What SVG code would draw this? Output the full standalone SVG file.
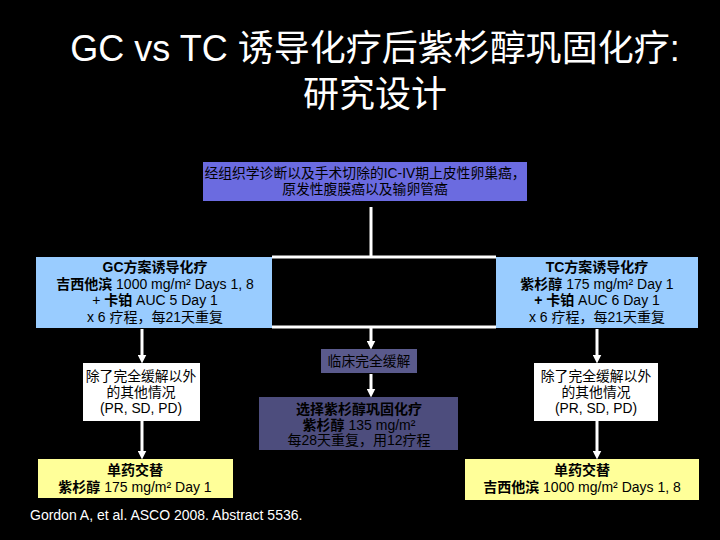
<svg xmlns="http://www.w3.org/2000/svg" width="720" height="540" viewBox="0 0 720 540">
<defs>
<style>
text{font-family:"Liberation Sans","Noto Sans CJK SC",sans-serif;}
.title{font-size:36px;fill:#ffffff;text-anchor:middle;}
.t{font-size:14px;fill:#000;text-anchor:middle;}
.ts{font-size:13.8px;fill:#000;text-anchor:middle;}
.b{font-weight:bold;}
.cite{font-size:14px;fill:#ffffff;}
.ln{stroke:#ffffff;stroke-width:3;fill:none;}
.ar{stroke:#ffffff;stroke-width:3;fill:none;marker-end:url(#ah);}
</style>
<marker id="ah" viewBox="0 0 10 10" refX="5" refY="5" markerWidth="3" markerHeight="3" orient="auto" markerUnits="strokeWidth">
<path d="M0,0 L10,5 L0,10 z" fill="#ffffff"/>
</marker>
</defs>
<rect x="0" y="0" width="720" height="540" fill="#000000"/>
<g id="title">
<text class="title" x="375" y="61">GC vs TC 诱导化疗后紫杉醇巩固化疗:</text>
<text class="title" x="375" y="107">研究设计</text>
</g>
<g id="connectors">
<line class="ln" x1="371" y1="207" x2="371" y2="257"/>
<line class="ln" x1="272" y1="257" x2="496" y2="257"/>
<line class="ln" x1="272" y1="327" x2="496" y2="327"/>
<line class="ar" x1="371" y1="328" x2="371" y2="345"/>
<line class="ar" x1="371" y1="374" x2="371" y2="393"/>
<line class="ar" x1="142" y1="329" x2="142" y2="359"/>
<line class="ar" x1="597" y1="329" x2="597" y2="359"/>
<line class="ar" x1="142" y1="421" x2="142" y2="455"/>
<line class="ar" x1="597" y1="421" x2="597" y2="455"/>
</g>
<g id="eligibility">
<rect x="203" y="162" width="324" height="39" fill="#6b6be0"/>
<text class="ts" x="365" y="178">经组织学诊断以及手术切除的IC-IV期上皮性卵巢癌，</text>
<text class="ts" x="365" y="194">原发性腹膜癌以及输卵管癌</text>
</g>
<g id="gc">
<rect x="36" y="257" width="236" height="71" fill="#99ccff"/>
<text class="t b" x="155" y="272">GC方案诱导化疗</text>
<text class="t" x="155" y="289"><tspan class="b">吉西他滨</tspan> 1000 mg/m² Days 1, 8</text>
<text class="t" x="155" y="305">+ <tspan class="b">卡铂</tspan> AUC 5 Day 1</text>
<text class="t" x="155" y="322">x 6 疗程，每21天重复</text>
</g>
<g id="tc">
<rect x="496" y="257" width="202" height="71" fill="#99ccff"/>
<text class="t b" x="597" y="272">TC方案诱导化疗</text>
<text class="t" x="597" y="289"><tspan class="b">紫杉醇</tspan> 175 mg/m² Day 1</text>
<text class="t" x="597" y="305"><tspan class="b">+ 卡铂</tspan> AUC 6 Day 1</text>
<text class="t" x="597" y="322">x 6 疗程，每21天重复</text>
</g>
<g id="cr">
<rect x="321" y="349" width="96" height="24" fill="#5a5a8c"/>
<text class="ts" x="369" y="366">临床完全缓解</text>
</g>
<g id="consolidation">
<rect x="259" y="397" width="199" height="53" fill="#4d4d7d"/>
<text class="t b" x="359" y="414">选择紫杉醇巩固化疗</text>
<text class="t" x="359" y="430"><tspan class="b">紫杉醇</tspan> 135 mg/m²</text>
<text class="t" x="359" y="445">每28天重复，用12疗程</text>
</g>
<g id="other-left">
<rect x="83" y="363" width="117" height="58" fill="#ffffff"/>
<text class="ts" x="141" y="381">除了完全缓解以外</text>
<text class="ts" x="141" y="397">的其他情况</text>
<text class="ts" x="141" y="413">(PR, SD, PD)</text>
</g>
<g id="other-right">
<rect x="534" y="363" width="124" height="58" fill="#ffffff"/>
<text class="ts" x="596" y="381">除了完全缓解以外</text>
<text class="ts" x="596" y="397">的其他情况</text>
<text class="ts" x="596" y="413">(PR, SD, PD)</text>
</g>
<g id="alt-left">
<rect x="38" y="459" width="195" height="39" fill="#ffff99"/>
<text class="t b" x="135" y="475">单药交替</text>
<text class="t" x="135" y="492"><tspan class="b">紫杉醇</tspan> 175 mg/m² Day 1</text>
</g>
<g id="alt-right">
<rect x="465" y="459" width="234" height="41" fill="#ffff99"/>
<text class="t b" x="582" y="475">单药交替</text>
<text class="t" x="582" y="492"><tspan class="b">吉西他滨</tspan> 1000 mg/m² Days 1, 8</text>
</g>
<g id="citation">
<text class="cite" x="30" y="520">Gordon A, et al. ASCO 2008. Abstract 5536.</text>
</g>
</svg>
